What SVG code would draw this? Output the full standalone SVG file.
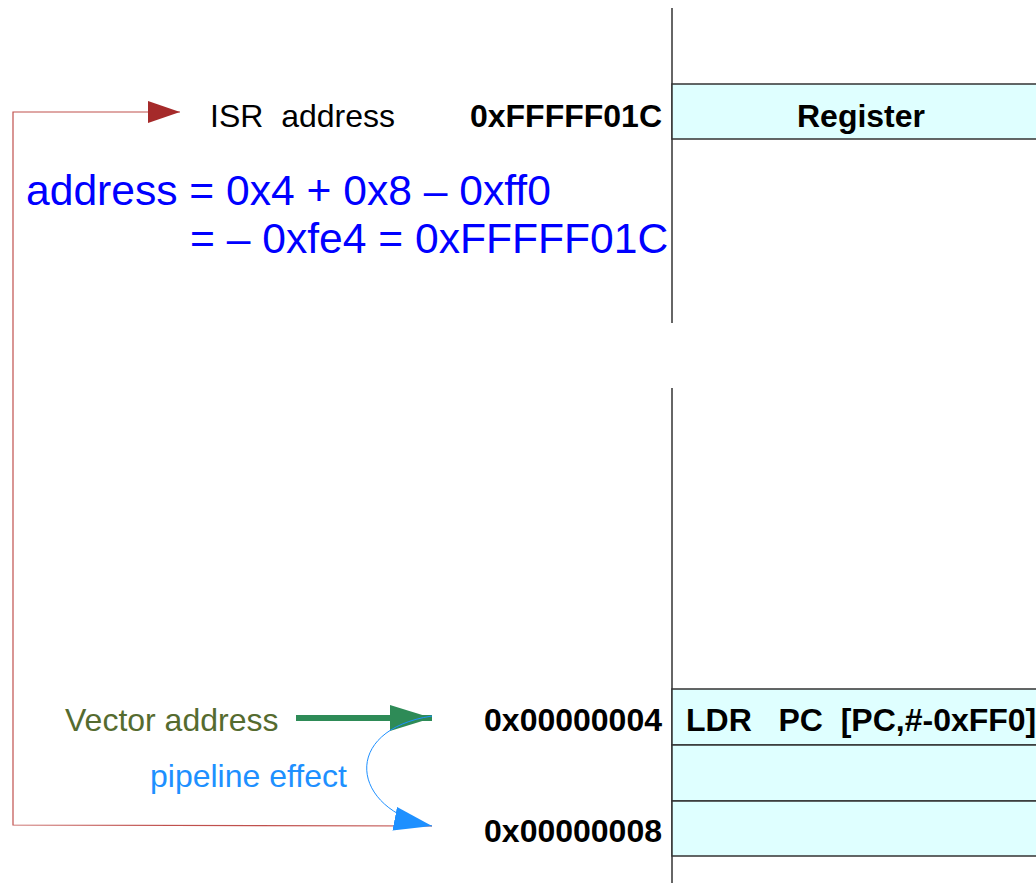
<svg xmlns="http://www.w3.org/2000/svg" width="1036" height="883" viewBox="0 0 1036 883">
<style>
.t{font-family:"Liberation Sans",Arial,sans-serif;font-size:32px;fill:#000}
.b{font-weight:bold}
.cell{fill:#dfffff;stroke:#333;stroke-width:1.5}
.blue{font-family:"Liberation Sans",Arial,sans-serif;font-size:42.6px;fill:#0000ff}
</style>
<defs>
<marker id="mr" markerWidth="32" markerHeight="22" refX="32" refY="11" orient="auto" markerUnits="userSpaceOnUse"><path d="M0,0 L32,11 L0,22 Z" fill="#a52a2a"/></marker>
<marker id="mg" markerWidth="42" markerHeight="26" refX="42" refY="13" orient="auto" markerUnits="userSpaceOnUse"><path d="M0,0 L42,13 L0,26 Z" fill="#2e8b57"/></marker>
<marker id="mb" markerWidth="38" markerHeight="24" refX="38" refY="12" orient="auto" markerUnits="userSpaceOnUse"><path d="M0,0 L38,12 L0,24 Z" fill="#1e90ff"/></marker>
</defs>
<rect width="1036" height="883" fill="#fff"/>
<g id="memory">
<line x1="672" y1="8" x2="672" y2="323" stroke="#333" stroke-width="1.5"/>
<line x1="672" y1="388" x2="672" y2="883" stroke="#333" stroke-width="1.5"/>
</g>
<g id="register">
<rect class="cell" x="672" y="84" width="370" height="55"/>
<text class="t b" x="861" y="127" text-anchor="middle">Register</text>
<text class="t b" x="662" y="127" text-anchor="end">0xFFFFF01C</text>
</g>
<g id="ldr">
<rect class="cell" x="672" y="689" width="370" height="56"/>
<text class="t b" x="686" y="731" xml:space="preserve">LDR   PC  [PC,#-0xFF0]</text>
<text class="t b" x="662" y="731" text-anchor="end">0x00000004</text>
</g>
<g id="row2"><rect class="cell" x="672" y="745" width="370" height="56"/></g>
<g id="row3">
<rect class="cell" x="672" y="801" width="370" height="55"/>
<text class="t b" x="662" y="842" text-anchor="end">0x00000008</text>
</g>
<g id="labels">
<text class="t" x="210" y="127" xml:space="preserve">ISR  address</text>
<text class="blue" x="26" y="205">address = 0x4 + 0x8 – 0xff0</text>
<text class="blue" x="190" y="253">= – 0xfe4 = 0xFFFFF01C</text>
<text class="t" x="65" y="731" style="fill:#556b2f">Vector address</text>
<text class="t" x="150" y="787" style="fill:#1e90ff">pipeline effect</text>
</g>
<g id="connectors">
<path d="M432,826 L13,825 L13,112 L180,112" fill="none" stroke="#c0504d" stroke-width="1.2" marker-end="url(#mr)"/>
<line x1="296" y1="718" x2="432" y2="718" stroke="#2e8b57" stroke-width="6" marker-end="url(#mg)"/>
<path d="M432,716 C340,730 350,810 432,826" fill="none" stroke="#1e90ff" stroke-width="1" marker-end="url(#mb)"/>
</g>
</svg>
